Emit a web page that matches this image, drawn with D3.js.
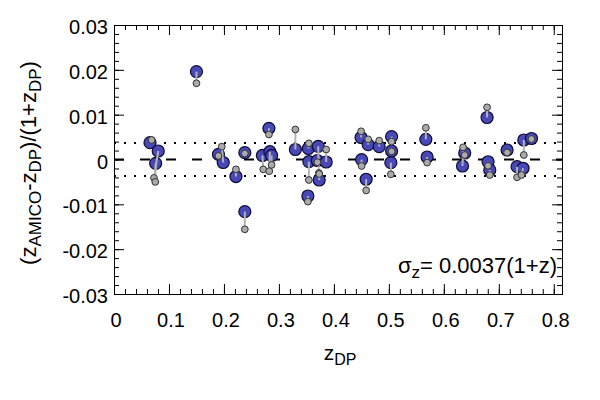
<!DOCTYPE html>
<html>
<head>
<meta charset="utf-8">
<script src="https://cdn.jsdelivr.net/npm/d3@7"></script>
<style>
  html, body { margin: 0; padding: 0; background: #fff; }
  text { font-family: "Liberation Sans", Arial, sans-serif; fill: #000; }
</style>
</head>
<body>
<svg id="chart" width="600" height="400"></svg>
<script>
// ---- data ----
const zBlue = [0.0655,0.0805,0.0758,0.150,0.190,0.1987,0.2218,0.238,0.238,0.2818,0.270,0.2836,0.2867,
  0.330,0.3536,0.3545,0.3715,0.370,0.386,0.3733,0.3527,0.4495,0.4624,0.4824,0.4504,0.4587,
  0.505,0.505,0.5036,0.5673,0.5696,0.638,0.634,0.6787,0.6805,0.6836,0.7151,0.7455,0.7595,0.7333,0.7442];
const dBlue = [0.00375,0.0019,-0.00085,0.0196,0.00116,-0.00067,-0.0038,0.00152,-0.01164,0.00696,0.0009,0.00174,0.0009,
  0.00223,0.00245,-0.00049,0.00294,-0.00022,-0.00056,-0.00457,-0.00814,0.00491,0.00332,0.00286,-0.00004,-0.0044,
  0.0051,0.0019,-0.0007,0.0045,0.00056,0.00145,-0.00145,0.00937,-0.0005,-0.00234,0.00212,0.00435,0.00468,-0.0016,-0.00196];
const zGrey = [0.0685,0.0727,0.0751,0.150,0.190,0.196,0.2218,0.238,0.238,0.2818,0.2715,0.2824,0.2867,
  0.330,0.3545,0.3545,0.3727,0.370,0.386,0.3733,0.3527,0.4495,0.4624,0.4824,0.4504,0.4587,
  0.505,0.505,0.5036,0.5673,0.5696,0.638,0.635,0.6787,0.6805,0.6836,0.7151,0.7455,0.7595,0.7333,0.7413];
const dGrey = [0.00435,-0.0041,-0.0050,0.0170,0.0008,0.00286,-0.0022,0.00134,-0.01557,0.00558,-0.0022,-0.0026,-0.0012,
  0.00669,0.0036,-0.00457,-0.0030,-0.0006,0.00223,-0.00323,-0.0094,0.00629,0.0045,0.0042,-0.00145,-0.0069,
  0.0040,0.0018,-0.0033,0.00707,-0.0007,0.0010,0.00272,0.01164,-0.0014,-0.00346,0.00156,0.0010,0.00457,-0.00397,-0.00346];
const xTickValues = [0,0.1,0.2,0.3,0.4,0.5,0.6,0.7,0.8];
const xTickLabels = ["0","0.1","0.2","0.3","0.4","0.5","0.6","0.7","0.8"];
const yTickValues = [-0.03,-0.02,-0.01,0,0.01,0.02,0.03];
const yTickLabels = ["-0.03","-0.02","-0.01","0","0.01","0.02","0.03"];
const sigmaZ = 0.0037;

// ---- layout ----
const svg = d3.select("#chart");
const L = 114, R = 562, T = 25, B = 294;
const x = d3.scaleLinear().domain([0, 0.815]).range([L, R]);
const y = d3.scaleLinear().domain([-0.03, 0.03]).range([B, T]);

const xMinor = d3.range(0, 0.8151, 0.02);
const yMinor = d3.range(-0.03, 0.0301, 0.002);

// reference lines
svg.append("line").attr("x1", L).attr("x2", R).attr("y1", y(0)).attr("y2", y(0))
  .attr("stroke", "#000").attr("stroke-width", 2).attr("stroke-dasharray", "10,16");
[sigmaZ, -sigmaZ].forEach(v => {
  svg.append("line").attr("x1", L).attr("x2", R).attr("y1", y(v)).attr("y2", y(v))
    .attr("stroke", "#000").attr("stroke-width", 2).attr("stroke-dasharray", "2,8");
});

// points
const pts = zBlue.map((z, i) => ({zb: z, db: dBlue[i], zg: zGrey[i], dg: dGrey[i]}));
svg.append("g").selectAll("circle").data(pts).join("circle")
  .attr("cx", d => x(d.zb)).attr("cy", d => y(d.db)).attr("r", 6)
  .attr("fill", "#4848b6").attr("stroke", "#0c0c36").attr("stroke-width", 1.2);
svg.append("g").selectAll("line").data(pts).join("line")
  .attr("x1", d => x(d.zb)).attr("y1", d => y(d.db))
  .attr("x2", d => x(d.zg)).attr("y2", d => y(d.dg))
  .attr("stroke", "#b4b4b4").attr("stroke-width", 2);
svg.append("g").selectAll("circle").data(pts).join("circle")
  .attr("cx", d => x(d.zg)).attr("cy", d => y(d.dg)).attr("r", 3.4)
  .attr("fill", "#aaaaaa").attr("stroke", "#333").attr("stroke-width", 1);

// axes (ticks inward on all four sides)
const axisG = svg.append("g");
function tickAxis(gen, tr, values, size) {
  axisG.append("g").attr("transform", tr)
    .call(gen.tickValues(values).tickSize(size).tickFormat(""))
    .call(g => g.select(".domain").remove())
    .call(g => g.selectAll(".tick line").attr("stroke", "#000").attr("stroke-width", 1));
}
tickAxis(d3.axisTop(x), `translate(0,${B})`, xTickValues, 10);
tickAxis(d3.axisTop(x), `translate(0,${B})`, xMinor, 5);
tickAxis(d3.axisBottom(x), `translate(0,${T})`, xTickValues, 10);
tickAxis(d3.axisBottom(x), `translate(0,${T})`, xMinor, 5);
tickAxis(d3.axisRight(y), `translate(${L},0)`, yTickValues, 10);
tickAxis(d3.axisRight(y), `translate(${L},0)`, yMinor, 5);
tickAxis(d3.axisLeft(y), `translate(${R},0)`, yTickValues, 10);
tickAxis(d3.axisLeft(y), `translate(${R},0)`, yMinor, 5);

svg.append("rect").attr("x", L + 0.5).attr("y", T + 0.5).attr("width", R - L).attr("height", B - T)
  .attr("fill", "none").attr("stroke", "#000").attr("stroke-width", 1);

// tick labels
svg.append("g").selectAll("text").data(xTickValues).join("text")
  .attr("x", d => x(d) + 2).attr("y", 327).attr("text-anchor", "middle")
  .attr("font-size", 20).text((d, i) => xTickLabels[i]);
svg.append("g").selectAll("text").data(yTickValues).join("text")
  .attr("x", 108).attr("y", d => y(d) + 9).attr("text-anchor", "end")
  .attr("font-size", 20).text((d, i) => yTickLabels[i]);

// axis titles
const xl = svg.append("text").attr("x", 340).attr("y", 360).attr("text-anchor", "middle").attr("font-size", 21);
xl.append("tspan").text("z");
xl.append("tspan").attr("font-size", 16).attr("dy", 5).text("DP");

const yl = svg.append("text").attr("transform", "translate(36,163) rotate(-90)")
  .attr("text-anchor", "middle").attr("font-size", 22);
yl.append("tspan").text("(z");
yl.append("tspan").attr("font-size", 17).attr("dy", 5).text("AMICO");
yl.append("tspan").attr("dy", -5).text("-z");
yl.append("tspan").attr("font-size", 17).attr("dy", 5).text("DP");
yl.append("tspan").attr("dy", -5).text(")/(1+z");
yl.append("tspan").attr("font-size", 17).attr("dy", 5).text("DP");
yl.append("tspan").attr("dy", -5).text(")");

// annotation
const ann = svg.append("text").attr("x", 557).attr("y", 273).attr("text-anchor", "end").attr("font-size", 22);
ann.append("tspan").text("σ");
ann.append("tspan").attr("font-size", 17).attr("dy", 5).text("z");
ann.append("tspan").attr("dy", -5).text("= " + sigmaZ + "(1+z)");
</script>
</body>
</html>
